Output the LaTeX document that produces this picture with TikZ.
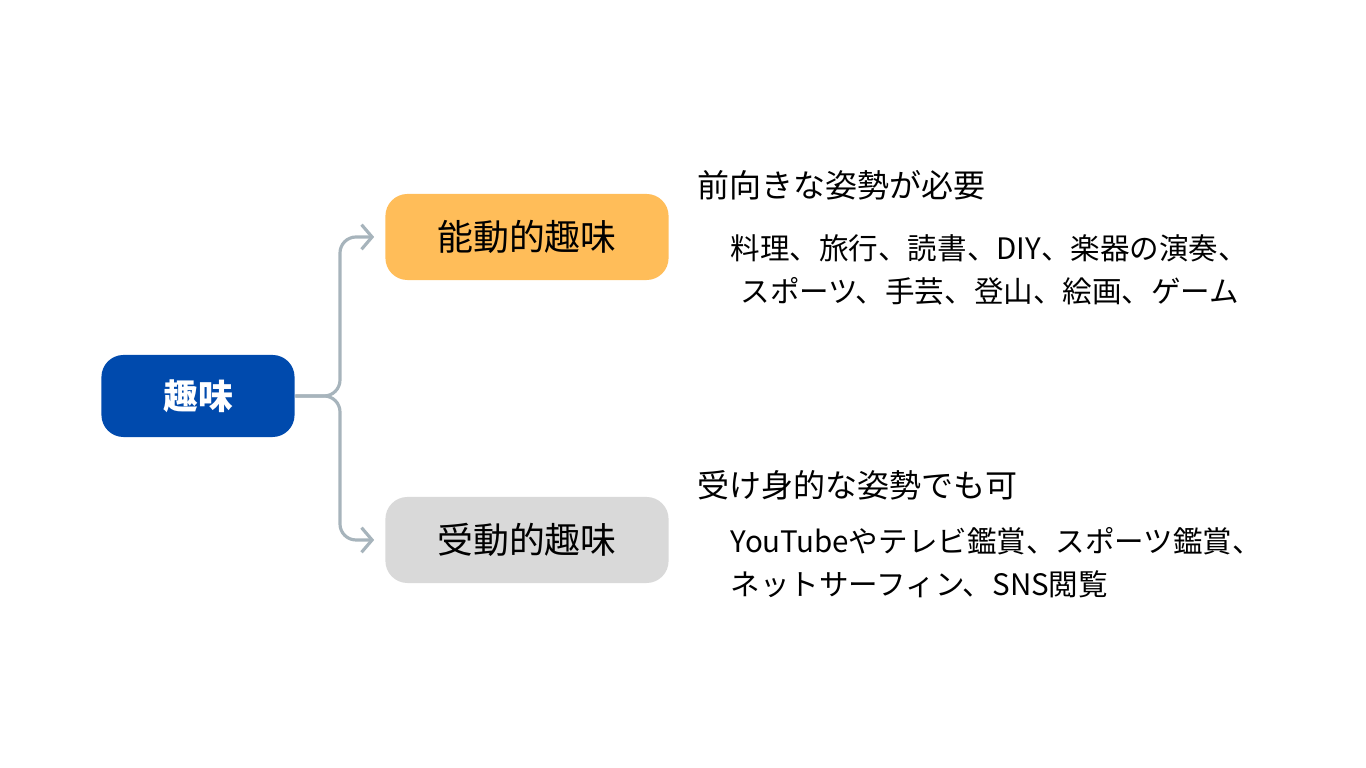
\documentclass[tikz,border=0pt]{standalone}
\usepackage{fontspec}
\setmainfont{Noto Sans CJK JP}
\usetikzlibrary{positioning,arrows.meta}
\definecolor{rootblue}{HTML}{004AAD}
\definecolor{actorange}{HTML}{FFBD59}
\definecolor{pasgray}{HTML}{D9D9D9}
\definecolor{linegray}{HTML}{A7B4BC}
\begin{document}
\begin{tikzpicture}[x=0.01cm,y=-0.01cm]
\tikzset{
  topic/.style={rounded corners=0.22cm, minimum height=0.86cm, minimum width=2.83cm, inner sep=0pt},
  branch/.style={linegray, line width=0.9pt, rounded corners=0.16cm, -{Straight Barb[length=3pt,width=7pt]}},
  head/.style={anchor=west, inner sep=0pt, font=\fontsize{9.1}{10}\selectfont},
  body/.style={anchor=west, inner sep=0pt, align=left, font=\fontsize{8.4}{12.2}\selectfont}
}
\useasboundingbox (0,0) rectangle (1366,768);
\node[topic, fill=rootblue, text=white, minimum width=1.93cm, minimum height=0.82cm,
  font=\fontsize{9.9}{10}\selectfont\bfseries] (root) at (198,396) {趣味};
\node[topic, fill=actorange, font=\fontsize{10.2}{10}\selectfont] (act) at (527,237) {能動的趣味};
\node[topic, fill=pasgray, font=\fontsize{10.2}{10}\selectfont] (pas) at (527,540) {受動的趣味};
\coordinate (fork) at (340,396);
\draw[branch] (root.east) -- (fork) |- ([xshift=-3]act.west);
\draw[branch] (root.east) -- (fork) |- ([xshift=-3]pas.west);
\node[head] (acthead) at (697,185) {前向きな姿勢が必要};
\node[body] (actbody) at (730,270) {料理、旅行、読書、DIY、楽器の演奏、\\\hspace{0.1cm}スポーツ、手芸、登山、絵画、ゲーム};
\node[head] (pashead) at (697,485) {受け身的な姿勢でも可};
\node[body] (pasbody) at (730,563) {YouTubeやテレビ鑑賞、スポーツ鑑賞、\\ネットサーフィン、SNS閲覧};
\end{tikzpicture}
\end{document}
